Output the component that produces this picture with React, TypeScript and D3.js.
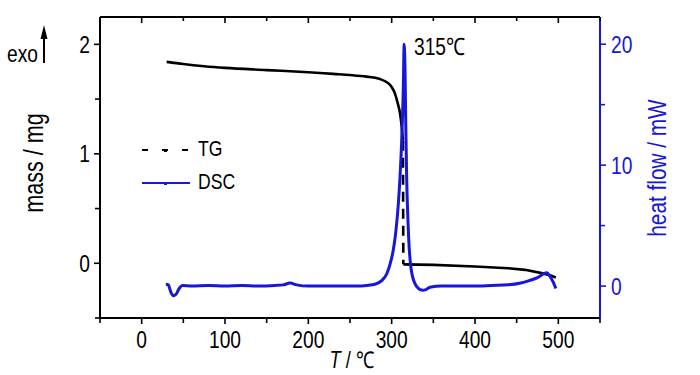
import React from "react";
import * as d3 from "d3";

const W = 700;
const H = 375;

// Axis ticks
const xMajor = [0, 100, 200, 300, 400, 500];
const xMinor = [-50, 50, 150, 250, 350, 450, 550];
const massMajor = [0, 1, 2];
const massMinor = [-0.5, 0.5, 1.5];
const heatMajor = [0, 10, 20];
const heatMinor = [5, 15];

// TG (mass, mg) before the drop
const tgT1 = [30, 50, 75, 100, 150, 200, 230, 250, 270, 285, 295, 300, 304, 307, 310, 312, 313.5];
const tgM1 = [1.84, 1.82, 1.8, 1.785, 1.765, 1.745, 1.73, 1.72, 1.705, 1.685, 1.65, 1.61, 1.55, 1.47, 1.37, 1.25, 1.12];
// TG vertical drop (dashed)
const tgT2 = [313.5, 314];
const tgM2 = [1.12, -0.01];
// TG after the drop
const tgT3 = [314, 350, 400, 440, 460, 480, 490, 497];
const tgM3 = [-0.01, -0.015, -0.03, -0.045, -0.06, -0.09, -0.11, -0.13];

// DSC (heat flow, mW)
const dscT = [29, 32, 35, 38, 41, 45, 49, 60, 80, 100, 120, 140, 160, 170, 178, 186, 200, 230, 260, 270, 280, 288, 294, 298, 302, 305, 308, 310, 312, 314, 315, 316, 317, 318, 319.5, 321, 323, 325, 328, 332, 337, 341, 346, 360, 380, 400, 420, 440, 455, 465, 475, 482, 486, 490, 494, 497];
const dscQ = [0.15, 0.1, -0.5, -0.8, -0.7, -0.2, 0.05, 0.0, 0.05, 0.0, 0.05, 0.0, 0.05, 0.1, 0.25, 0.1, 0.0, 0.0, 0.0, 0.05, 0.15, 0.45, 1.0, 1.8, 3.0, 4.5, 6.8, 9.0, 12, 16.5, 20, 18, 13, 9, 5.5, 3.2, 1.6, 0.8, 0.2, -0.2, -0.35, -0.3, -0.1, 0.0, 0.0, 0.0, 0.05, 0.1, 0.25, 0.45, 0.7, 1.0, 1.1, 0.8, 0.3, -0.2];

const peakLabel = "315℃";
const xTitle = " / ℃";
const massTitle = "mass / mg";
const heatTitle = "heat flow / mW";
const legendLabels = ["TG", "DSC"];

const BLUE = "#1717d9";
const FONT = "'Liberation Sans', Arial, sans-serif";
const SX = 0.8;

const L = 100, R = 600, T = 17, B = 318;

type NTProps = {
  x: number;
  y: number;
  size: number;
  anchor?: "start" | "middle" | "end";
  fill?: string;
  rotate?: number;
  children: React.ReactNode;
};

function NText({ x, y, size, anchor = "start", fill = "#000", rotate = 0, children }: NTProps) {
  return (
    <text
      transform={`translate(${x},${y}) rotate(${rotate}) scale(${SX},1)`}
      textAnchor={anchor}
      fontSize={size}
      fill={fill}
    >
      {children}
    </text>
  );
}

export default function App() {
  const x = d3.scaleLinear().domain([-50, 550]).range([L, R]);
  const yM = d3.scaleLinear().domain([-0.5, 2.25]).range([B, T]);
  const yH = d3.scaleLinear().domain([-2.64, 22.25]).range([B, T]);

  const lineM = d3
    .line<[number, number]>()
    .x((d) => x(d[0]))
    .y((d) => yM(d[1]))
    .curve(d3.curveMonotoneX);
  const lineStraight = d3
    .line<[number, number]>()
    .x((d) => x(d[0]))
    .y((d) => yM(d[1]));
  const lineH = d3
    .line<[number, number]>()
    .x((d) => x(d[0]))
    .y((d) => yH(d[1]))
    .curve(d3.curveMonotoneX);

  const zip = (a: number[], b: number[]) => a.map((v, i) => [v, b[i]] as [number, number]);

  const tick = 24;
  return (
    <svg
      width={W}
      height={H}
      viewBox={`0 0 ${W} ${H}`}
      style={{ position: "fixed", left: 0, top: 0, background: "#fff" }}
      fontFamily={FONT}
    >
      <rect x={0} y={0} width={W} height={H} fill="#fff" />

      {/* TG curve */}
      <path d={lineM(zip(tgT1, tgM1)) || ""} fill="none" stroke="#000" strokeWidth={2.6} />
      <path d={lineStraight(zip(tgT2, tgM2)) || ""} fill="none" stroke="#000" strokeWidth={2.6} strokeDasharray="10 7" />
      <path d={lineStraight(zip(tgT3, tgM3)) || ""} fill="none" stroke="#000" strokeWidth={2.6} />

      {/* DSC curve */}
      <path d={lineH(zip(dscT, dscQ)) || ""} fill="none" stroke={BLUE} strokeWidth={3} strokeLinejoin="round" />

      {/* Frame */}
      <line x1={L} x2={R} y1={T} y2={T} stroke="#000" strokeWidth={2} />
      <line x1={L} x2={R} y1={B} y2={B} stroke="#000" strokeWidth={2} />
      <line x1={L} x2={L} y1={T} y2={B} stroke="#000" strokeWidth={2} />
      <line x1={R} x2={R} y1={T} y2={B} stroke={BLUE} strokeWidth={2} />

      {/* Bottom / top ticks */}
      {xMajor.map((v) => (
        <g key={"xm" + v}>
          <line x1={x(v)} x2={x(v)} y1={B} y2={B + 6} stroke="#000" strokeWidth={1.6} />
          <line x1={x(v)} x2={x(v)} y1={T} y2={T + 6} stroke="#000" strokeWidth={1.6} />
          <NText x={x(v)} y={348} anchor="middle" size={tick}>
            {v}
          </NText>
        </g>
      ))}
      {xMinor.map((v) => (
        <g key={"xn" + v}>
          <line x1={x(v)} x2={x(v)} y1={B} y2={B + 5} stroke="#000" strokeWidth={1.6} />
          <line x1={x(v)} x2={x(v)} y1={T} y2={T + 4} stroke="#000" strokeWidth={1.6} />
        </g>
      ))}

      {/* Left axis */}
      {massMajor.map((v) => (
        <g key={"mm" + v}>
          <line x1={L - 6} x2={L} y1={yM(v)} y2={yM(v)} stroke="#000" strokeWidth={1.6} />
          <NText x={90} y={yM(v) + 8.5} anchor="end" size={tick}>
            {v}
          </NText>
        </g>
      ))}
      {massMinor.map((v) => (
        <line key={"mn" + v} x1={L - 5} x2={L} y1={yM(v)} y2={yM(v)} stroke="#000" strokeWidth={1.6} />
      ))}

      {/* Right axis */}
      {heatMajor.map((v) => (
        <g key={"hm" + v}>
          <line x1={R} x2={R + 6} y1={yH(v)} y2={yH(v)} stroke={BLUE} strokeWidth={1.6} />
          <NText x={611} y={yH(v) + 8.5} anchor="start" size={tick} fill={BLUE}>
            {v}
          </NText>
        </g>
      ))}
      {heatMinor.map((v) => (
        <line key={"hn" + v} x1={R} x2={R + 5} y1={yH(v)} y2={yH(v)} stroke={BLUE} strokeWidth={1.6} />
      ))}

      {/* Axis titles */}
      <NText x={352} y={368} anchor="middle" size={23}>
        <tspan fontStyle="italic">T</tspan>
        <tspan>{xTitle}</tspan>
      </NText>
      <NText x={43} y={163} anchor="middle" size={27} rotate={-90}>
        {massTitle}
      </NText>
      <NText x={666} y={168} anchor="middle" size={26} rotate={-90} fill={BLUE}>
        {heatTitle}
      </NText>

      {/* exo arrow */}
      <NText x={7} y={62} size={24}>
        exo
      </NText>
      <line x1={44} x2={44} y1={36} y2={63} stroke="#000" strokeWidth={2} />
      <path d="M44,25 L40.5,39 L47.5,39 Z" fill="#000" />

      {/* Peak label */}
      <NText x={414} y={55} size={tick}>
        {peakLabel}
      </NText>

      {/* Legend */}
      <line x1={142} x2={190} y1={150} y2={150} stroke="#000" strokeWidth={2} strokeDasharray="6 14" />
      <rect x={164} y={149} width={3} height={3} fill="#000" />
      <NText x={198} y={156} size={22}>
        {legendLabels[0]}
      </NText>
      <line x1={142} x2={190} y1={183} y2={183} stroke={BLUE} strokeWidth={2} />
      <rect x={164} y={182} width={3} height={3} fill={BLUE} />
      <NText x={198} y={189} size={22}>
        {legendLabels[1]}
      </NText>
    </svg>
  );
}
